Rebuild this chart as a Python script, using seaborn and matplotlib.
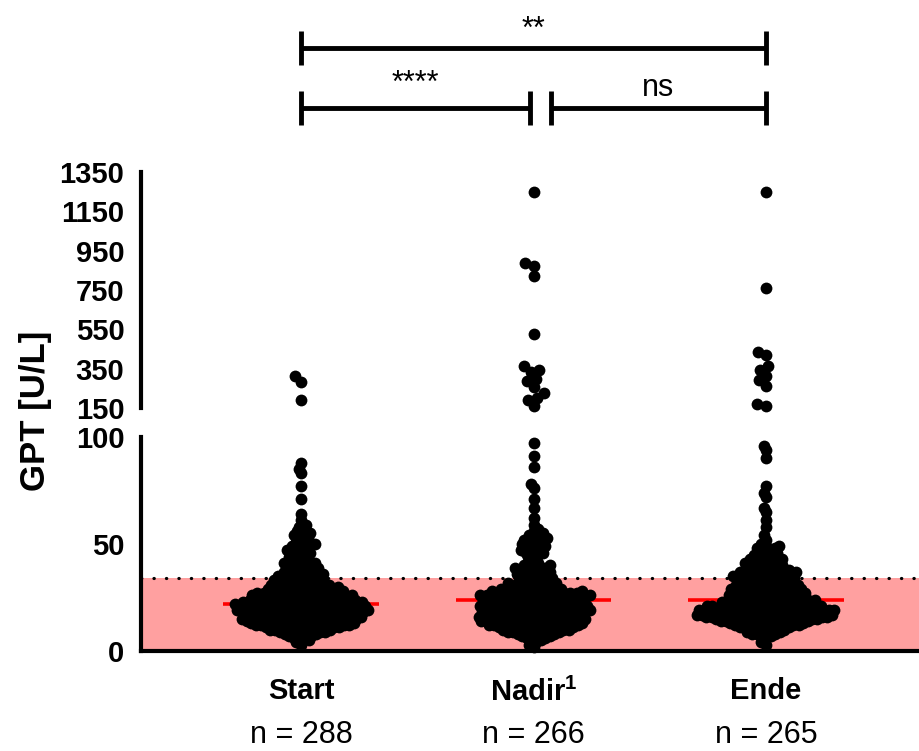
import numpy as np
import pandas as pd
import matplotlib
matplotlib.use("Agg")
import matplotlib.pyplot as plt
import matplotlib.transforms as mtransforms
import seaborn as sns

# ---------------- data ----------------
categories = ["Start", "Nadir", "Ende"]
tick_labels = ["Start", r"Nadir$^{\mathregular{1}}$", "Ende"]
n_labels = ["n = 288", "n = 266", "n = 265"]

start_vals = [3, 4, 5, 6, 7, 8, 9, 10, 11, 12, 13, 14, 15, 16, 17, 18, 19, 20, 21, 22,
              23, 24, 25, 26, 27, 28, 29, 30, 31, 32, 33, 34, 35, 36, 37, 38, 39, 40, 41,
              42, 43, 44, 45, 46, 47, 48, 49, 50, 51, 52, 53, 54, 55, 56, 57, 58, 59,
              61, 64, 71, 77, 83, 85, 88]
start_counts = [1, 1, 2, 2, 3, 4, 5, 6, 8, 9, 9, 10, 10, 10, 10, 11, 11, 11, 11, 11,
                10, 9, 9, 8, 8, 6, 7, 5, 6, 4, 5, 4, 4, 4, 3, 3, 3, 3, 3,
                2, 2, 2, 2, 2, 2, 2, 2, 2, 1, 1, 2, 1, 2, 1, 1, 1, 1,
                1, 1, 1, 1, 1, 1, 1]
start_high = [313, 284, 191]

nadir_vals = [2, 3, 4, 5, 6, 7, 8, 9, 10, 11, 12, 13, 14, 15, 16, 17, 18, 19, 20, 21,
              22, 23, 24, 25, 26, 27, 28, 29, 30, 31, 32, 33, 34, 35, 36, 37, 38, 39, 40,
              41, 42, 43, 44, 45, 46, 47, 48, 49, 50, 51, 52, 53, 54, 55, 56, 57, 59,
              62, 67, 71, 76, 78, 86, 91, 97]
nadir_counts = [1, 1, 1, 2, 2, 3, 4, 5, 6, 7, 8, 8, 9, 8, 9, 8, 9, 8, 9, 8,
                8, 8, 8, 9, 9, 8, 7, 6, 4, 4, 4, 3, 3, 3, 3, 3, 3, 3, 3,
                1, 1, 1, 1, 2, 2, 2, 2, 2, 2, 2, 2, 2, 2, 1, 1, 1, 1,
                1, 1, 1, 1, 1, 1, 1, 1]
nadir_high = [1246, 886, 870, 822, 526, 365, 345, 335, 300, 285, 255, 225, 200, 192, 158]

ende_vals = [3, 4, 6, 7, 8, 9, 10, 11, 12, 13, 14, 15, 16, 17, 18, 19, 20, 21, 22, 23,
             24, 25, 26, 27, 28, 29, 30, 31, 32, 33, 34, 35, 36, 37, 38, 39, 40, 41, 42,
             43, 44, 45, 46, 47, 48, 49, 50, 52, 54, 58, 61, 65, 67, 72, 74, 77, 90, 94, 96]
ende_counts = [1, 1, 1, 2, 3, 3, 4, 5, 6, 7, 8, 10, 11, 12, 12, 11, 10, 9, 8, 7,
               8, 6, 6, 6, 6, 6, 6, 5, 5, 5, 5, 5, 5, 5, 4, 3, 3, 3, 3,
               3, 2, 2, 2, 2, 2, 2, 1, 1, 1, 1, 1, 1, 1, 1, 1, 1, 1, 1, 1]
ende_high = [1246, 761, 434, 420, 365, 345, 315, 290, 262, 168, 160]

ref_upper = 34  # upper reference limit (shaded band)

# ---------------- build table ----------------
groups = {
    "Start": np.concatenate([np.repeat(start_vals, start_counts), start_high]),
    "Nadir": np.concatenate([np.repeat(nadir_vals, nadir_counts), nadir_high]),
    "Ende": np.concatenate([np.repeat(ende_vals, ende_counts), ende_high]),
}
df = pd.concat([pd.DataFrame({"group": g, "value": v.astype(float)}) for g, v in groups.items()],
               ignore_index=True)
df_lo = df[df["value"] <= 100]
df_hi = df[df["value"] > 100]

# ---------------- figure ----------------
sns.set_style("white")
plt.rcParams["font.family"] = ["Liberation Sans", "DejaVu Sans"]
plt.rcParams["mathtext.fontset"] = "custom"
plt.rcParams["mathtext.rm"] = "Liberation Sans"
for k in ("text.color", "axes.labelcolor", "xtick.color", "ytick.color", "axes.edgecolor"):
    plt.rcParams[k] = "black"

W_PX, H_PX = 919, 751
fig = plt.figure(figsize=(W_PX / 100, H_PX / 100), dpi=100)

left = 141 / W_PX
ax_lo = fig.add_axes([left, 1 - 651 / H_PX, 1 - left, (651 - 437) / H_PX])
ax_hi = fig.add_axes([left, 1 - 408 / H_PX, 1 - left, (408 - 172) / H_PX])
for ax in (ax_lo, ax_hi):
    ax.patch.set_alpha(0)

xlim = (-(301 - 141) / 232.5, 2 + (919 - 766) / 232.5)

sns.swarmplot(data=df_lo, x="group", y="value", order=categories, color="black",
              size=3.5, linewidth=0, ax=ax_lo, zorder=4, clip_on=False)
lo_colls = list(ax_lo.collections)
sns.swarmplot(data=df_hi, x="group", y="value", order=categories, color="black",
              size=6.0, linewidth=0, ax=ax_hi, zorder=4, clip_on=False)
hi_colls = list(ax_hi.collections)

ax_lo.set_xlim(*xlim)
ax_hi.set_xlim(*xlim)
ax_lo.set_ylim(0, 100)
ax_hi.set_ylim(150, 1350)

# reference band + dotted limit
ax_lo.axhspan(0, ref_upper, color="#FFA0A0", lw=0, zorder=0)
ax_lo.axhline(ref_upper, color="black", lw=2.3, linestyle=(0, (0.1, 3.8)),
              dash_capstyle="round", zorder=1)

# medians
for i, c in enumerate(categories):
    med = np.median(groups[c])
    ax_lo.hlines(med, i - 0.335, i + 0.335, color="#FF0000", lw=2.6, zorder=2)

# lay out the swarm, then draw larger overlapping markers like the reference
fig.canvas.draw()
for coll in lo_colls + hi_colls:
    if "draw" in coll.__dict__:
        del coll.draw
    coll.set_sizes([8.5 ** 2])

# axes styling
for ax in (ax_lo, ax_hi):
    ax.set_xlabel("")
    ax.set_ylabel("")
    for s in ("top", "right"):
        ax.spines[s].set_visible(False)
    ax.spines["left"].set_linewidth(3)
    ax.tick_params(axis="y", which="major", direction="out", length=9, width=3,
                   labelsize=21, pad=3)

ax_hi.spines["bottom"].set_visible(False)
ax_hi.tick_params(axis="x", bottom=False, labelbottom=False)
ax_lo.spines["bottom"].set_linewidth(3)

ax_lo.set_yticks([0, 50, 100])
ax_lo.set_yticklabels(["0", "50", "100"], fontweight="bold", fontsize=21)
ax_lo.set_yticks([100], minor=True)
ax_lo.tick_params(axis="y", which="minor", direction="in", length=9, width=3)

hi_ticks = [150, 350, 550, 750, 950, 1150, 1350]
ax_hi.set_yticks(hi_ticks)
ax_hi.set_yticklabels([str(t) for t in hi_ticks], fontweight="bold", fontsize=21)
ax_hi.set_yticks([150], minor=True)
ax_hi.tick_params(axis="y", which="minor", direction="in", length=9, width=3)

ax_lo.set_xticks([0, 1, 2])
ax_lo.set_xticklabels(tick_labels, fontweight="bold", fontsize=21)
ax_lo.tick_params(axis="x", direction="out", length=9, width=3, pad=10)

trans = mtransforms.blended_transform_factory(ax_lo.transData, fig.transFigure)
for i, n in enumerate(n_labels):
    ax_lo.text(i, 1 - 735 / H_PX, n, ha="center", va="center", fontsize=22,
               transform=trans, clip_on=False)

fig.text(35 / W_PX, 1 - 411 / H_PX, "GPT [U/L]", rotation=90, fontsize=25,
         fontweight="bold", ha="center", va="center")

# significance brackets
brackets = [
    (0.0, 2.0, 48, 17, "**", 38),
    (0.0, 0.985, 108, 17, "****", 92),
    (1.075, 2.0, 108, 17, "ns", 96),
]
for x0, x1, ypx, cap, label, base in brackets:
    y = 1 - ypx / H_PX
    dy = cap / H_PX
    kw = dict(color="black", lw=3.5, transform=trans, clip_on=False, solid_capstyle="butt")
    ax_lo.plot([x0, x1], [y, y], **kw)
    ax_lo.plot([x0, x0], [y - dy, y + dy], **kw)
    ax_lo.plot([x1, x1], [y - dy, y + dy], **kw)
    ax_lo.text((x0 + x1) / 2, 1 - base / H_PX, label, ha="center", va="baseline",
               fontsize=22, transform=trans, clip_on=False)

fig.savefig("out.png", dpi=100)
